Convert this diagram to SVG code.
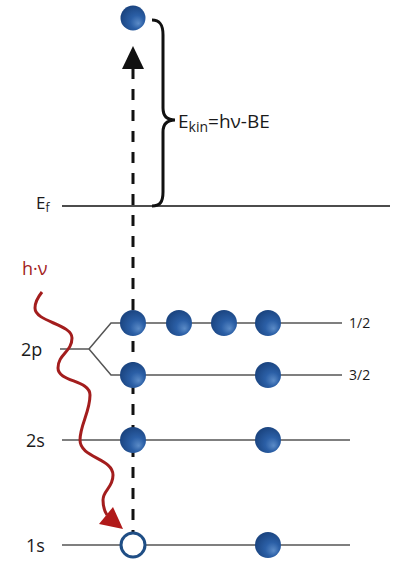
<svg xmlns="http://www.w3.org/2000/svg" width="399" height="562" viewBox="0 0 399 562">
<defs>
<radialGradient id="ball" cx="0.6" cy="0.6" r="0.6" fx="0.72" fy="0.72">
<stop offset="0" stop-color="#5b8bc7"/>
<stop offset="0.45" stop-color="#2b5fa6"/>
<stop offset="1" stop-color="#1b4581"/>
</radialGradient>
<style>
.lvl{stroke:#555;stroke-width:1.5;fill:none}
.txt{font-family:"Open Sans","Liberation Sans",sans-serif;fill:#1a1a1a}
.e{fill:url(#ball)}
</style>
</defs>
<rect width="399" height="562" fill="#fff"/>
<g id="levels">
<line class="lvl" x1="62" y1="206" x2="390" y2="206" style="stroke:#111"/>
<line class="lvl" x1="60" y1="349" x2="89" y2="349"/>
<polyline class="lvl" points="89,349 111,323 342,323"/>
<polyline class="lvl" points="89,349 111,375 342,375"/>
<line class="lvl" x1="62" y1="440" x2="350" y2="440"/>
<line class="lvl" x1="62" y1="545" x2="350" y2="545"/>
</g>
<g id="connectors">
<line x1="133" y1="68" x2="133" y2="532" stroke="#111" stroke-width="3" stroke-dasharray="11 10"/>
<polygon points="133,46 122,69 144,69" fill="#111"/>
<path d="M152,20 C160,20 163,25 163,35 L163,108 C163,116 167,120 175,120 C167,120 163,124 163,132 L163,192 C163,202 160,206 152,206" fill="none" stroke="#111" stroke-width="3"/>
<path d="M42,292 C38,297 35,302 35,308 C35,322 72,324 72,338 C72,352 58,354 58,368 C58,382 90,380 90,395 C90,412 80,425 80,440 C80,458 113,458 113,475 C113,488 103,490 103,500 C103,508 105,512 107,515" fill="none" stroke="#a31d1d" stroke-width="3"/>
<polygon points="123,529 99,524 113,507" fill="#b01a1a"/>
</g>
<g id="electron-free"><circle class="e" cx="133" cy="18" r="12.5"/></g>
<g id="electrons-2p12">
<circle class="e" cx="133" cy="323" r="13"/>
<circle class="e" cx="179" cy="323" r="13"/>
<circle class="e" cx="224" cy="323" r="13"/>
<circle class="e" cx="268" cy="323" r="13"/>
</g>
<g id="electrons-2p32">
<circle class="e" cx="133" cy="375" r="13"/>
<circle class="e" cx="268" cy="375" r="13"/>
</g>
<g id="electrons-2s">
<circle class="e" cx="133" cy="440" r="13"/>
<circle class="e" cx="268" cy="440" r="13"/>
</g>
<g id="electrons-1s">
<circle cx="133" cy="545" r="12" fill="#fff" stroke="#1f4e85" stroke-width="3"/>
<circle class="e" cx="268" cy="545" r="13"/>
</g>
<g id="labels">
<text class="txt" x="178" y="128" font-size="19">E<tspan font-size="14" dy="4">kin</tspan><tspan dy="-4">=hν-BE</tspan></text>
<text class="txt" x="36" y="209" font-size="17">E<tspan font-size="12" dy="3">f</tspan></text>
<text class="txt" x="22" y="275" font-size="18" style="fill:#a31d1d">h·ν</text>
<text class="txt" x="21" y="356" font-size="18">2p</text>
<text class="txt" x="26" y="447" font-size="18">2s</text>
<text class="txt" x="26" y="552" font-size="18">1s</text>
<text class="txt" x="349" y="328" font-size="14">1/2</text>
<text class="txt" x="349" y="380" font-size="14">3/2</text>
</g>
</svg>
